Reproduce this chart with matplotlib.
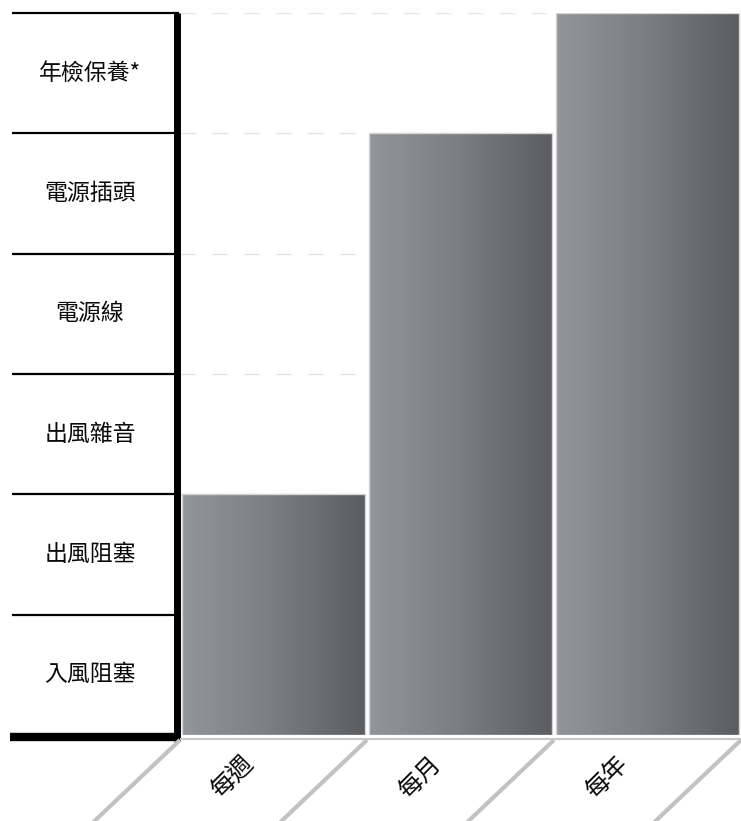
import matplotlib
matplotlib.use("Agg")
import matplotlib.pyplot as plt
import numpy as np
from matplotlib.colors import LinearSegmentedColormap

plt.rcParams['font.family'] = ['Noto Sans CJK TC', 'DejaVu Sans']

# data
categories = ['每週', '每月', '每年']
values = [2, 5, 6]
row_labels = ['入風阻塞', '出風阻塞', '出風雜音', '電源線', '電源插頭', '年檢保養*']

W, H = 741, 821
fig = plt.figure(figsize=(W / 100, H / 100), dpi=100)

# axes placement in pixels
ax_l, ax_r, ax_t, ax_b = 180, 741, 13, 735
ax = fig.add_axes([ax_l / W, (H - ax_b) / H, (ax_r - ax_l) / W, (ax_b - ax_t) / H])


def px_x(p):
    return (p - ax_l) / (ax_r - ax_l)


def px_y(p):
    return (ax_b - p) / (ax_b - ax_t)


x = np.arange(len(categories))
bar_w = 0.975
cmap = LinearSegmentedColormap.from_list('bargrad', ['#939699', '#7b7e81', '#5b5d60'])
grad = np.linspace(0, 1, 256).reshape(1, -1)

bars = ax.bar(x, values, width=bar_w, color='none', edgecolor='#d4d4d4', linewidth=1, zorder=3)
for b in bars:
    x0, w, h = b.get_x(), b.get_width(), b.get_height()
    im = ax.imshow(grad, cmap=cmap, aspect='auto', extent=[x0, x0 + w, 0, h],
                   zorder=2, interpolation='bicubic')
    im.set_clip_path(b)

ax.set_xlim(-0.5, len(categories) - 0.5)
ax.set_ylim(0, len(row_labels))

# dashed grid
for yv in range(1, len(row_labels) + 1):
    ax.axhline(yv, color='#e4e4e4', lw=1, linestyle=(0, (11, 12)), zorder=1)

for s in ax.spines.values():
    s.set_visible(False)
ax.set_xticks([])
ax.set_yticks([])

# left table of row labels
ytr = ax.get_yaxis_transform()
for i, lab in enumerate(row_labels):
    ax.text(px_x(90), i + 0.5, lab, transform=ytr, ha='center', va='center',
            fontsize=16.5, color='#0a0a0a', clip_on=False)
for yv in range(1, len(row_labels) + 1):
    ax.plot([px_x(12), px_x(179)], [yv, yv], transform=ytr, color='black',
            lw=1.6, clip_on=False, solid_capstyle='butt')

# thick vertical and bottom lines
ax.plot([px_x(176.5), px_x(176.5)], [px_y(13), px_y(741)], transform=ax.transAxes,
        color='black', lw=5, clip_on=False, solid_capstyle='butt')
ax.plot([px_x(10), px_x(180)], [px_y(737), px_y(737)], transform=ax.transAxes,
        color='black', lw=6, clip_on=False, solid_capstyle='butt')
ax.plot([0, 1], [px_y(738.5), px_y(738.5)], transform=ax.transAxes,
        color='#c8c8c8', lw=1.5, clip_on=False, solid_capstyle='butt')

# slanted separators and rotated category labels
xtr = ax.get_xaxis_transform()
unit_px = (ax_r - ax_l) / len(categories)
for xb in np.arange(len(categories) + 1) - 0.5:
    ax.plot([xb, xb - 95 / unit_px], [px_y(740), px_y(830)], transform=xtr,
            color='#c2c2c2', lw=3, clip_on=False, solid_capstyle='butt')
for xi, cat in zip(x, categories):
    ax.text(xi - 41 / unit_px, px_y(777), cat, transform=xtr, rotation=45,
            ha='center', va='center', fontsize=17.5, color='#0a0a0a',
            rotation_mode='anchor', clip_on=False)

fig.savefig('out.png', dpi=100)
